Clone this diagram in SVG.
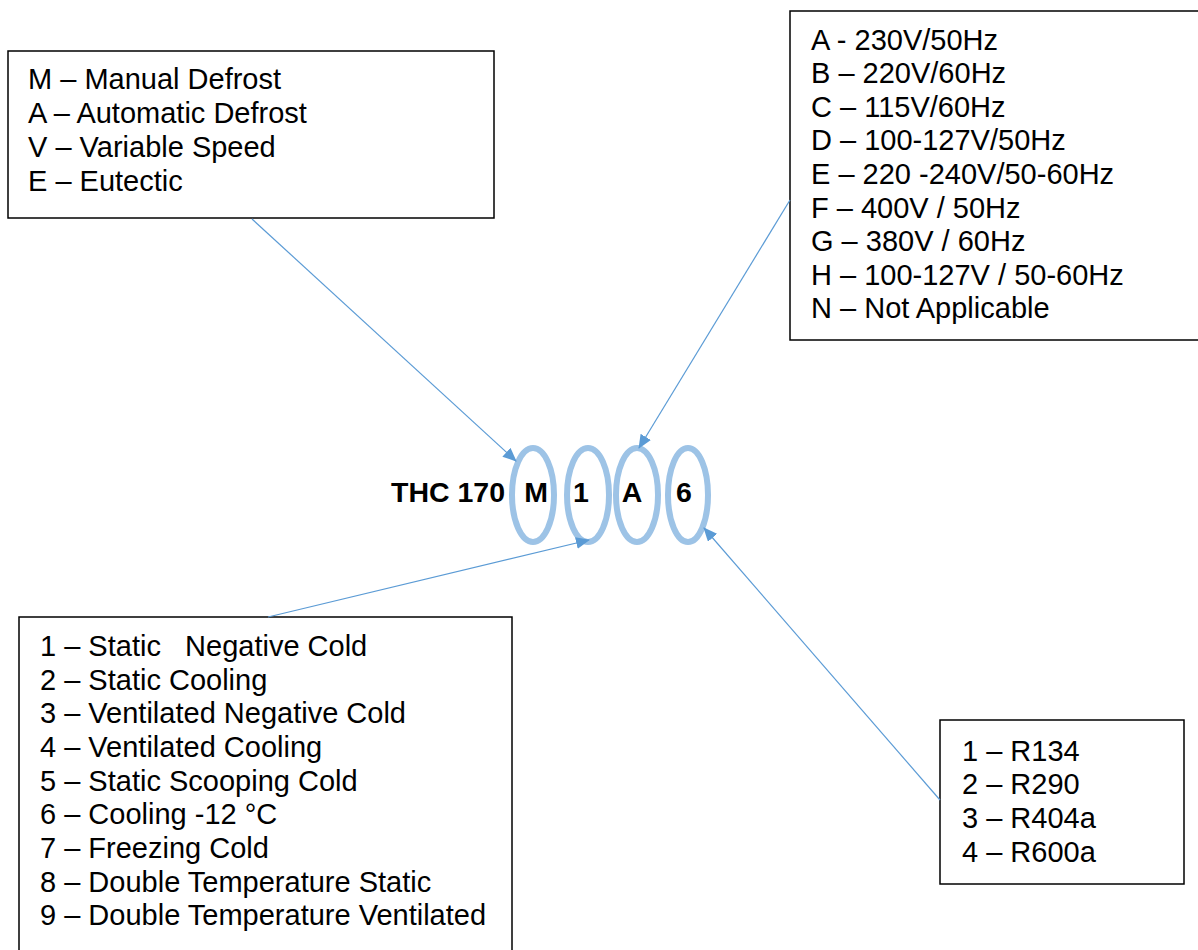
<svg xmlns="http://www.w3.org/2000/svg" width="1198" height="950" viewBox="0 0 1198 950">
<style>
.box{fill:#fff;stroke:#000;stroke-width:1.5}
.t{font-family:"Liberation Sans",Arial,sans-serif;font-size:29px;fill:#000;white-space:pre}
.b{font-family:"Liberation Sans",Arial,sans-serif;font-size:28.5px;font-weight:bold;fill:#000}
.ring{fill:none;stroke:#9DC3E6;stroke-width:6}
.conn{stroke:#5B9BD5;stroke-width:1.2;fill:none;marker-end:url(#ah)}
</style>
<defs>
<marker id="ah" markerWidth="14" markerHeight="12" refX="13" refY="6" orient="auto" markerUnits="userSpaceOnUse">
<path d="M0,0 L14,6 L0,12 Z" fill="#5B9BD5"/>
</marker>
</defs>
<rect width="1198" height="950" fill="#fff"/>
<g id="defrost-box">
<rect class="box" x="8" y="51" width="486" height="167"/>
<text class="t" x="28" y="89">M – Manual Defrost</text>
<text class="t" x="28" y="123">A – Automatic Defrost</text>
<text class="t" x="28" y="157">V – Variable Speed</text>
<text class="t" x="28" y="191">E – Eutectic</text>
</g>
<g id="voltage-box">
<rect class="box" x="790" y="11" width="420" height="329"/>
<text class="t" x="811" y="50">A - 230V/50Hz</text>
<text class="t" x="811" y="83">B – 220V/60Hz</text>
<text class="t" x="811" y="117">C – 115V/60Hz</text>
<text class="t" x="811" y="150">D – 100-127V/50Hz</text>
<text class="t" x="811" y="184">E – 220 -240V/50-60Hz</text>
<text class="t" x="811" y="218">F – 400V / 50Hz</text>
<text class="t" x="811" y="251">G – 380V / 60Hz</text>
<text class="t" x="811" y="285">H – 100-127V / 50-60Hz</text>
<text class="t" x="811" y="318">N – Not Applicable</text>
</g>
<g id="type-box">
<rect class="box" x="19" y="617" width="493" height="345"/>
<text class="t" x="40" y="656">1 – Static   Negative Cold</text>
<text class="t" x="40" y="690">2 – Static Cooling</text>
<text class="t" x="40" y="723">3 – Ventilated Negative Cold</text>
<text class="t" x="40" y="757">4 – Ventilated Cooling</text>
<text class="t" x="40" y="791">5 – Static Scooping Cold</text>
<text class="t" x="40" y="824">6 – Cooling -12 °C</text>
<text class="t" x="40" y="858">7 – Freezing Cold</text>
<text class="t" x="40" y="892">8 – Double Temperature Static</text>
<text class="t" x="40" y="925">9 – Double Temperature Ventilated</text>
</g>
<g id="refrigerant-box">
<rect class="box" x="940" y="720" width="244" height="164"/>
<text class="t" x="962" y="761">1 – R134</text>
<text class="t" x="962" y="794">2 – R290</text>
<text class="t" x="962" y="828">3 – R404a</text>
<text class="t" x="962" y="862">4 – R600a</text>
</g>
<g id="code">
<text class="b" x="391" y="502">THC 170</text>
<ellipse class="ring" cx="533" cy="495" rx="21" ry="47"/>
<ellipse class="ring" cx="588" cy="495" rx="21" ry="47"/>
<ellipse class="ring" cx="637" cy="495" rx="21" ry="47"/>
<ellipse class="ring" cx="688" cy="495" rx="20" ry="47"/>
<text class="b" x="536" y="502" text-anchor="middle">M</text>
<text class="b" x="581" y="502" text-anchor="middle">1</text>
<text class="b" x="632" y="502" text-anchor="middle">A</text>
<text class="b" x="684" y="502" text-anchor="middle">6</text>
</g>
<g id="connectors">
<line class="conn" x1="252" y1="219" x2="516" y2="461"/>
<line class="conn" x1="790" y1="200" x2="639" y2="448"/>
<line class="conn" x1="268" y1="617" x2="589" y2="540"/>
<line class="conn" x1="940" y1="800" x2="704" y2="528"/>
</g>
</svg>
